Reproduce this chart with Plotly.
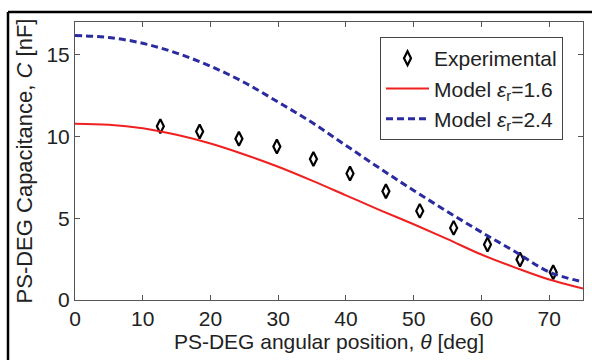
import plotly.graph_objects as go

# Experimental data
exp_theta = [12.6, 18.4, 24.2, 29.8, 35.2, 40.6, 45.9, 50.9, 55.9, 60.9, 65.7, 70.6]
exp_cap = [10.63, 10.30, 9.86, 9.39, 8.62, 7.73, 6.65, 5.45, 4.41, 3.40, 2.48, 1.69]

# Model curves
model_theta = [0, 5, 10, 15, 20, 25, 30, 35, 40, 45, 50, 55, 60, 65, 70, 75]
model_16 = [10.78, 10.72, 10.5, 10.1, 9.57, 8.9, 8.15, 7.3, 6.4, 5.5, 4.63, 3.72, 2.78, 1.98, 1.25, 0.7]
model_24 = [16.17, 16.05, 15.7, 15.1, 14.3, 13.3, 12.1, 10.85, 9.45, 8.05, 6.7, 5.4, 4.15, 2.95, 1.72, 1.1]

x_ticks = [0, 10, 20, 30, 40, 50, 60, 70]
y_ticks = [0, 5, 10, 15]

FONT = "Liberation Sans, Arial, sans-serif"
FS = 21
TXT = "#222222"

fig = go.Figure()
fig.add_trace(go.Scatter(
    x=exp_theta, y=exp_cap, mode="markers", name="Experimental",
    marker=dict(symbol="diamond-tall-open", size=10, color="black", line=dict(width=2.2, color="black")),
))
fig.add_trace(go.Scatter(
    x=model_theta, y=model_16, mode="lines", name="Model <i>ε</i><sub>r</sub>=1.6",
    line=dict(color="#F02020", width=2, shape="spline"),
))
fig.add_trace(go.Scatter(
    x=model_theta, y=model_24, mode="lines", name="Model <i>ε</i><sub>r</sub>=2.4",
    line=dict(color="#2B2BA0", width=3, dash="7px,4px", shape="spline"),
))

L, R, T, B = 75, 9, 22, 60
W, H = 592, 360
pw, ph = W - L - R, H - T - B

axis_common = dict(
    showline=True, linecolor="#555555", linewidth=1, mirror="ticks",
    ticks="inside", ticklen=5, tickcolor="#555555", showgrid=False, zeroline=False,
    tickfont=dict(family=FONT, size=FS, color=TXT),
)

fig.update_layout(
    width=W, height=H,
    margin=dict(l=L, r=R, t=T, b=B),
    paper_bgcolor="white", plot_bgcolor="white",
    font=dict(family=FONT, size=FS, color=TXT),
    showlegend=True,
    legend=dict(
        x=(380 - L) / pw, y=1 - (37 - T) / ph, xanchor="left", yanchor="top",
        bgcolor="white", bordercolor="#444444", borderwidth=1,
        font=dict(family=FONT, size=FS, color=TXT),
        tracegroupgap=0, itemwidth=43,
    ),
    xaxis=dict(
        range=[0, 75], tickvals=x_ticks,
        title=dict(text="PS-DEG angular position, <i>θ</i> [deg]", standoff=0,
                   font=dict(family=FONT, size=FS, color=TXT)),
        **axis_common,
    ),
    yaxis=dict(
        range=[0, 17], tickvals=y_ticks,
        title=dict(text="PS-DEG Capacitance, <i>C</i> [nF]", standoff=7,
                   font=dict(family=FONT, size=22, color=TXT)),
        **axis_common,
    ),
)

# Outer black frame lines (top and left)
x_left = (8 - L) / pw
x_right = (W - L) / pw
y_top = 1 + (T - 12) / ph
y_bot = -B / ph - 0.01
fig.add_shape(type="line", xref="paper", yref="paper", x0=x_left, x1=x_right, y0=y_top, y1=y_top,
              line=dict(color="black", width=2.5))
fig.add_shape(type="line", xref="paper", yref="paper", x0=x_left, x1=x_left, y0=y_top, y1=y_bot,
              line=dict(color="black", width=2.5))

fig.write_html("out.html")
